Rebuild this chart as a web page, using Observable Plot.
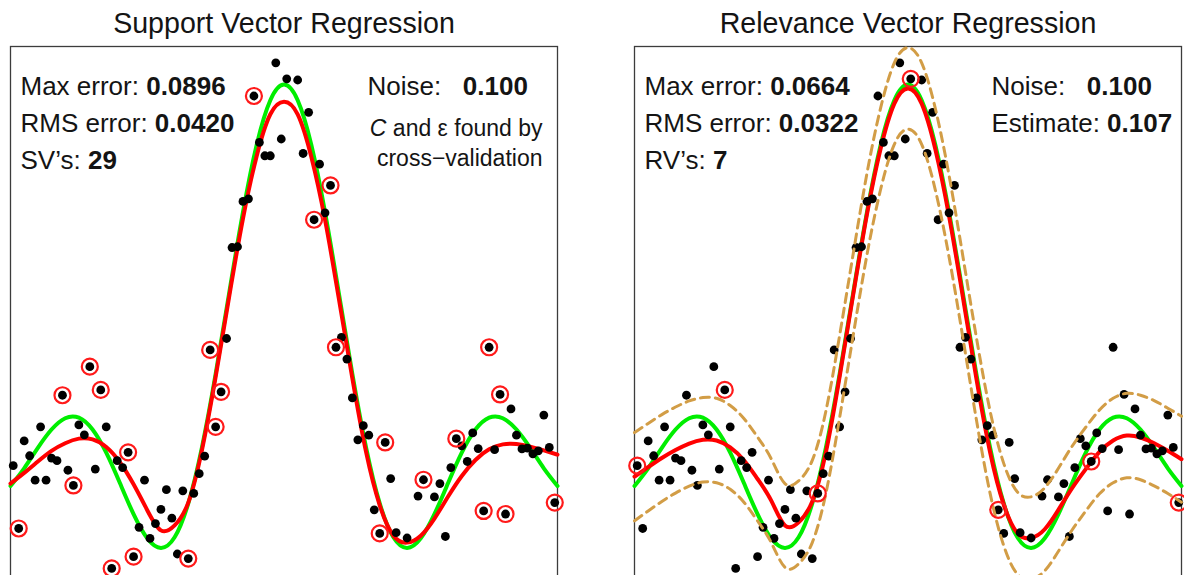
<!DOCTYPE html>
<html>
<head>
<meta charset="utf-8">
<script src="https://cdn.jsdelivr.net/npm/d3@7"></script>
<script src="https://cdn.jsdelivr.net/npm/@observablehq/plot@0.6"></script>
<style>
  body { margin: 0; background: #fff; overflow: hidden; }
  #fig { position: relative; width: 1184px; height: 575px; overflow: hidden; }
  #fig svg { position: absolute; top: 0; }
</style>
</head>
<body>
<div id="fig"></div>
<script>
// Noisy samples of sinc(x), shared by both panels
const sampleX = [-9.9, -9.7, -9.5, -9.3, -9.1, -8.9, -8.7, -8.5, -8.3, -8.1, -7.9, -7.7, -7.5, -7.3, -7.1, -6.9,
  -6.7, -6.5, -6.3, -6.1, -5.9, -5.7, -5.5, -5.3, -5.1, -4.9, -4.7, -4.5, -4.3, -4.1, -3.9, -3.7, -3.5, -3.3,
  -3.1, -2.9, -2.7, -2.5, -2.3, -2.1, -1.9, -1.7, -1.5, -1.3, -1.1, -0.9, -0.7, -0.5, -0.3, -0.1, 0.1, 0.5,
  0.7, 0.9, 1.1, 1.3, 1.5, 1.7, 1.9, 2.1, 2.3, 2.5, 2.7, 2.9, 3.1, 3.3, 3.5, 3.7, 3.9, 4.1, 4.5, 4.9, 5.1,
  5.5, 5.7, 5.9, 6.1, 6.3, 6.5, 6.7, 6.9, 7.1, 7.3, 7.5, 7.7, 7.9, 8.1, 8.3, 8.5, 8.7, 8.9, 9.1, 9.3, 9.5, 9.7, 9.9];
const sampleY = [-0.001, -0.166, 0.064, 0.025, -0.039, 0.101, -0.039, 0.019, 0.012, 0.184, -0.013, -0.053,
  0.106, 0.080, 0.259, -0.010, 0.198, 0.101, -0.271, 0.012, -0.006, 0.034, -0.240, -0.163, -0.039, -0.192,
  -0.153, -0.116, -0.064, -0.139, -0.233, -0.067, -0.245, -0.074, -0.022, 0.024, 0.303, 0.101, 0.193, 0.333,
  0.572, 0.574, 0.693, 0.700, 0.970, 0.848, 0.813, 0.813, 1.057, 0.857, 1.015, 1.012, 0.819, 0.927, 0.645,
  0.791, 0.663, 0.735, 0.310, 0.336, 0.279, 0.177, 0.067, 0.104, 0.079, -0.117, -0.179, 0.060, -0.035,
  -0.177, -0.191, -0.081, -0.038, -0.083, -0.048, -0.187, -0.006, 0.070, 0.051, 0.010, 0.085, 0.044,
  -0.120, 0.310, 0.041, 0.186, -0.128, 0.148, 0.079, 0.043, 0.045, 0.030, 0.038, 0.132, 0.047, -0.098];

// Inputs of the support vectors (SVR) and relevance vectors (RVR)
const supportX = [-9.7, -8.1, -7.7, -7.1, -6.7, -6.3, -5.7, -5.5, -3.5, -2.7, -2.5, -2.3, -1.1,
  1.1, 1.7, 1.9, 3.5, 3.7, 5.1, 6.3, 7.3, 7.5, 7.9, 8.1, 9.9];
const relevanceX = [-9.9, -6.7, -3.3, 0.1, 3.3, 6.7, 9.9];

// Curve abscissae
const curveX = [-10, -9.5, -9, -8.5, -8, -7.5, -7, -6.5, -6, -5.5, -5, -4.5, -4, -3.5, -3, -2.5, -2, -1.5,
  -1, -0.5, 0, 0.5, 1, 1.5, 2, 2.5, 3, 3.5, 4, 4.5, 5, 5.5, 6, 6.5, 7, 7.5, 8, 8.5, 9, 9.5, 10];
// True function (green)
const sincY = [-0.0544, -0.0079, 0.0458, 0.0939, 0.1237, 0.1251, 0.0939, 0.0331, -0.0466, -0.1283, -0.1918,
  -0.2172, -0.1892, -0.1002, 0.0470, 0.2394, 0.4546, 0.6650, 0.8415, 0.9589, 1.0, 0.9589, 0.8415, 0.6650,
  0.4546, 0.2394, 0.0470, -0.1002, -0.1892, -0.2172, -0.1918, -0.1283, -0.0466, 0.0331, 0.0939, 0.1251,
  0.1237, 0.0939, 0.0458, -0.0079, -0.0544];
// SVR prediction (red, left)
const svrFitY = [-0.048, -0.020, 0.010, 0.038, 0.058, 0.070, 0.068, 0.048, 0.008, -0.050, -0.118, -0.171,
  -0.158, -0.098, 0.040, 0.232, 0.445, 0.648, 0.812, 0.922, 0.955, 0.922, 0.810, 0.645, 0.440, 0.228, 0.035,
  -0.105, -0.185, -0.203, -0.185, -0.140, -0.082, -0.028, 0.014, 0.042, 0.055, 0.056, 0.049, 0.039, 0.028];
// RVR predictive mean (red, right) and its one-sigma spread (dashed)
const rvrFitY = [-0.030, -0.005, 0.019, 0.040, 0.057, 0.067, 0.065, 0.047, 0.013, -0.036, -0.093, -0.158,
  -0.150, -0.095, 0.035, 0.233, 0.450, 0.660, 0.832, 0.950, 0.990, 0.950, 0.830, 0.655, 0.445, 0.228, 0.035,
  -0.103, -0.178, -0.191, -0.168, -0.117, -0.060, -0.010, 0.035, 0.065, 0.078, 0.073, 0.058, 0.038, 0.016];
const rvrSpread = [0.116, 0.115, 0.114, 0.113, 0.112, 0.111, 0.111, 0.110, 0.110, 0.110, 0.110, 0.110, 0.109,
  0.108, 0.108, 0.108, 0.107, 0.107, 0.107, 0.107, 0.107, 0.107, 0.107, 0.107, 0.107, 0.108, 0.108, 0.108,
  0.108, 0.108, 0.109, 0.109, 0.110, 0.110, 0.110, 0.111, 0.111, 0.111, 0.112, 0.112, 0.113];

// Text
const panelTitles = ["Support Vector Regression", "Relevance Vector Regression"];
const svrStats = [["Max error: ", "0.0896"], ["RMS error: ", "0.0420"], ["SV\u2019s: ", "29"]];
const rvrStats = [["Max error: ", "0.0664"], ["RMS error: ", "0.0322"], ["RV\u2019s: ", "7"]];
const svrNoise = [["Noise:   ", "0.100"]];
const rvrNoise = [["Noise:   ", "0.100"], ["Estimate: ", "0.107"]];
const svrNote = ["C", "and \u03b5 found by", "cross\u2212validation"];

const FONT = "Liberation Sans, Arial, Helvetica, sans-serif";
const INK = "#141414";
const ctx = document.createElement("canvas").getContext("2d");
function textWidth(s, size, style = "") {
  ctx.font = `${style} ${size}px "Liberation Sans", Arial, sans-serif`;
  return ctx.measureText(s).width;
}

const points = sampleX.map((x, i) => ({x, y: sampleY[i]}));
const truth = curveX.map((x, i) => ({x, y: sincY[i]}));
const svrFit = curveX.map((x, i) => ({x, y: svrFitY[i]}));
const rvrFit = curveX.map((x, i) => ({x, y: rvrFitY[i]}));
const rvrUpper = curveX.map((x, i) => ({x, y: rvrFitY[i] + rvrSpread[i]}));
const rvrLower = curveX.map((x, i) => ({x, y: rvrFitY[i] - rvrSpread[i]}));
const pick = (xs) => { const s = new Set(xs); return points.filter(d => s.has(d.x)); };

// label/value lines inside the top-left or top-right block of a panel
function statLines(rows, left, size) {
  const marks = [];
  rows.forEach(([label, value], i) => {
    const dy = 48 + 37 * i;
    marks.push(Plot.text([label], {text: d => d, frameAnchor: "top-left", textAnchor: "start", lineAnchor: "bottom",
      dx: left, dy, fontSize: size, fill: INK}));
    marks.push(Plot.text([value], {text: d => d, frameAnchor: "top-left", textAnchor: "start", lineAnchor: "bottom",
      dx: left + textWidth(label, size), dy, fontSize: size, fontWeight: "bold", fill: INK}));
  });
  return marks;
}

function panel({title, fit, band, vectors, stats, noise, note}) {
  const marks = [
    Plot.frame({stroke: "#3c3c3c", strokeWidth: 1.3}),
    Plot.line(truth, {x: "x", y: "y", stroke: "#00ee00", strokeWidth: 4, curve: "natural"}),
    Plot.line(fit, {x: "x", y: "y", stroke: "#ff0000", strokeWidth: 4, curve: "natural"}),
    Plot.dot(points, {x: "x", y: "y", r: 4.4, fill: "#000", stroke: "none"})
  ];
  if (band) {
    for (const b of band) {
      marks.push(Plot.line(b, {x: "x", y: "y", stroke: "#d29d46", strokeWidth: 3, strokeDasharray: "9,6", curve: "natural"}));
    }
  }
  marks.push(Plot.dot(vectors, {x: "x", y: "y", r: 8, fill: "none", stroke: "#ff1a1a", strokeWidth: 2.2}));
  marks.push(Plot.text([title], {text: d => d, frameAnchor: "top", lineAnchor: "bottom", dy: -14, fontSize: 28.6, fill: INK}));
  marks.push(...statLines(stats, 10, 26));
  marks.push(...statLines(noise, 357, 26));
  if (note) {
    // italic C sits just before the right-aligned remainder of the line
    const rest = textWidth(" " + note[1], 23);
    marks.push(Plot.text([note[0]], {text: d => d, frameAnchor: "top-right", textAnchor: "end", lineAnchor: "bottom",
      dx: -15 - rest, dy: 89, fontSize: 23, fontStyle: "italic", fill: INK}));
    marks.push(Plot.text([note[1]], {text: d => d, frameAnchor: "top-right", textAnchor: "end", lineAnchor: "bottom",
      dx: -15, dy: 89, fontSize: 23, fill: INK}));
    marks.push(Plot.text([note[2]], {text: d => d, frameAnchor: "top-right", textAnchor: "end", lineAnchor: "bottom",
      dx: -15, dy: 119, fontSize: 23, fill: INK}));
  }
  return Plot.plot({
    width: 560,
    height: 581,
    marginLeft: 10,
    marginRight: 3,
    marginTop: 46,
    marginBottom: 2,
    x: {domain: [-10, 10], axis: null},
    y: {domain: [-0.3, 1.1], axis: null},
    style: {fontFamily: FONT, background: "transparent", overflow: "visible"},
    marks
  });
}

const fig = document.getElementById("fig");
const left = panel({title: panelTitles[0], fit: svrFit, vectors: pick(supportX),
  stats: svrStats, noise: svrNoise, note: svrNote});
left.style.left = "0px";
const right = panel({title: panelTitles[1], fit: rvrFit, band: [rvrUpper, rvrLower], vectors: pick(relevanceX),
  stats: rvrStats, noise: rvrNoise});
right.style.left = "624px";
fig.append(left, right);
</script>
</body>
</html>
